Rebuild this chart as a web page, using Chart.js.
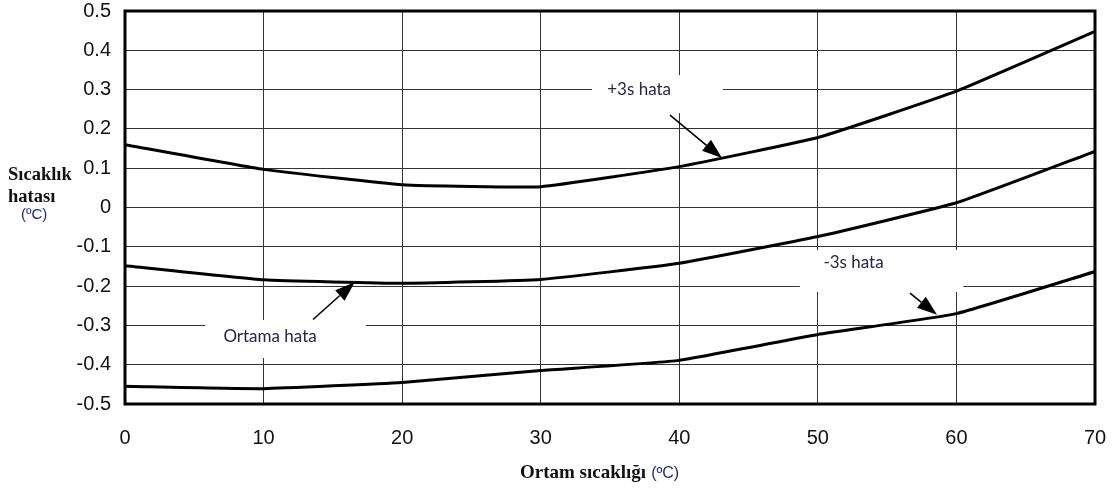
<!DOCTYPE html>
<html>
<head>
<meta charset="utf-8">
<script src="https://cdn.jsdelivr.net/npm/chart.js@4"></script>
<style>
  html, body { margin: 0; padding: 0; background: #fff; }
  #wrap { width: 1120px; height: 490px; }
</style>
</head>
<body>
<div id="wrap"><canvas id="c" width="1120" height="490"></canvas></div>
<script>
// ambient temperature (°C)
const temps = [0, 10, 20, 30, 40, 50, 60, 70];
// error curves (°C)
const plus3s = [0.16, 0.097, 0.058, 0.053, 0.104, 0.178, 0.296, 0.448];
const meanErr = [-0.148, -0.184, -0.193, -0.183, -0.142, -0.074, 0.012, 0.143];
const minus3s = [-0.455, -0.461, -0.445, -0.415, -0.389, -0.323, -0.27, -0.163];

const xTicks = [0, 10, 20, 30, 40, 50, 60, 70];
const yTicks = [-0.5, -0.4, -0.3, -0.2, -0.1, 0, 0.1, 0.2, 0.3, 0.4, 0.5];

// annotation labels in data space: white box, text, arrow (tail -> tip)
const notes = [
  { text: '+3s hata', box: [33.7, 0.337, 43.15, 0.240], at: [34.8, 0.30],
    tail: [39.33, 0.235], tip: [43.08, 0.126] },
  { text: 'Ortama hata', box: [5.77, -0.286, 17.4, -0.383], at: [7.1, -0.328],
    tail: [13.57, -0.285], tip: [16.58, -0.190] },
  { text: '-3s hata', box: [48.7, -0.108, 60.5, -0.215], at: [50.4, -0.14],
    tail: [56.65, -0.218], tip: [58.6, -0.273] },
];

const toXY = (xs, ys) => xs.map((x, i) => ({ x, y: ys[i] }));

const noteBoxes = {
  id: 'noteBoxes',
  beforeDatasetsDraw(chart) {
    const { ctx, scales: { x, y } } = chart;
    ctx.save();
    ctx.fillStyle = '#fff';
    for (const n of notes) {
      const x0 = x.getPixelForValue(n.box[0]), y0 = y.getPixelForValue(n.box[1]);
      const x1 = x.getPixelForValue(n.box[2]), y1 = y.getPixelForValue(n.box[3]);
      ctx.fillRect(x0, y0, x1 - x0, y1 - y0);
    }
    ctx.restore();
  },
  afterDatasetsDraw(chart) {
    const { ctx, scales: { x, y } } = chart;
    ctx.save();
    for (const n of notes) {
      ctx.fillStyle = '#25264a';
      ctx.font = '17px Lato, "Open Sans", sans-serif';
      ctx.textAlign = 'left';
      ctx.textBaseline = 'middle';
      ctx.fillText(n.text, x.getPixelForValue(n.at[0]), y.getPixelForValue(n.at[1]));

      const tx = x.getPixelForValue(n.tail[0]), ty = y.getPixelForValue(n.tail[1]);
      const hx = x.getPixelForValue(n.tip[0]), hy = y.getPixelForValue(n.tip[1]);
      const ang = Math.atan2(hy - ty, hx - tx);
      const len = 20, half = 7;
      const bx = hx - len * Math.cos(ang), by = hy - len * Math.sin(ang);
      ctx.strokeStyle = '#000';
      ctx.lineWidth = 1.6;
      ctx.beginPath();
      ctx.moveTo(tx, ty);
      ctx.lineTo(bx, by);
      ctx.stroke();
      ctx.fillStyle = '#000';
      ctx.beginPath();
      ctx.moveTo(hx, hy);
      ctx.lineTo(bx + half * Math.sin(ang), by - half * Math.cos(ang));
      ctx.lineTo(bx - half * Math.sin(ang), by + half * Math.cos(ang));
      ctx.closePath();
      ctx.fill();
    }
    ctx.restore();
  },
  afterDraw(chart) {
    const { ctx, chartArea: a } = chart;
    ctx.save();
    // plot frame
    ctx.strokeStyle = '#000';
    ctx.lineWidth = 3;
    ctx.strokeRect(a.left, a.top, a.right - a.left, a.bottom - a.top);

    // y title
    ctx.textAlign = 'left';
    ctx.textBaseline = 'middle';
    ctx.fillStyle = '#111';
    ctx.font = 'bold 18.5px "Liberation Serif", serif';
    ctx.fillText('Sıcaklık', 8, 175);
    ctx.fillText('hatası', 8, 197);
    ctx.fillStyle = '#1f2c6a';
    ctx.font = '15px "Liberation Sans", Arial, sans-serif';
    ctx.fillText('(ºC)', 21, 215);

    // x title
    ctx.fillStyle = '#111';
    ctx.font = 'bold 19px "Liberation Serif", serif';
    const t = 'Ortam sıcaklığı';
    ctx.fillText(t, 520, 473);
    const w = ctx.measureText(t).width;
    ctx.fillStyle = '#1f2c6a';
    ctx.font = '16px "Liberation Sans", Arial, sans-serif';
    ctx.fillText('(ºC)', 520 + w + 5, 474);
    ctx.restore();
  }
};

const lineStyle = {
  borderColor: '#000',
  borderWidth: 3,
  pointRadius: 0,
  fill: false,
  tension: 0.12,
};

const noScalePad = (s) => {
  s.paddingTop = 0; s.paddingBottom = 0; s.paddingLeft = 0; s.paddingRight = 0;
};

new Chart(document.getElementById('c'), {
  type: 'line',
  data: {
    datasets: [
      { label: '+3s hata', data: toXY(temps, plus3s), ...lineStyle },
      { label: 'Ortama hata', data: toXY(temps, meanErr), ...lineStyle },
      { label: '-3s hata', data: toXY(temps, minus3s), ...lineStyle },
    ],
  },
  options: {
    responsive: false,
    animation: false,
    layout: { padding: { top: 11, right: 25, left: 0, bottom: 0 } },
    plugins: { legend: { display: false }, tooltip: { enabled: false } },
    scales: {
      x: {
        type: 'linear',
        min: 0,
        max: 70,
        afterBuildTicks: (s) => { s.ticks = xTicks.map((v) => ({ value: v })); },
        afterFit: (s) => { s.height = 86; noScalePad(s); },
        grid: { color: '#333', lineWidth: 1, tickLength: 0 },
        border: { display: false },
        ticks: {
          padding: 22,
          color: '#111',
          font: { family: '"Liberation Sans", Arial, sans-serif', size: 20 },
          maxRotation: 0,
        },
      },
      y: {
        min: -0.5,
        max: 0.5,
        afterBuildTicks: (s) => { s.ticks = yTicks.map((v) => ({ value: v })); },
        afterFit: (s) => { s.width = 125; noScalePad(s); },
        grid: { color: '#333', lineWidth: 1, tickLength: 0 },
        border: { display: false },
        ticks: {
          padding: 14,
          color: '#111',
          font: { family: '"Liberation Sans", Arial, sans-serif', size: 20 },
          callback: (v) => String(+Number(v).toFixed(1)),
        },
      },
    },
  },
  plugins: [noteBoxes],
});
</script>
</body>
</html>
